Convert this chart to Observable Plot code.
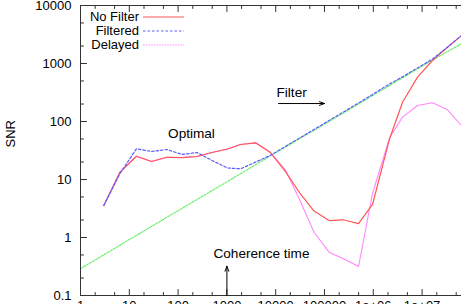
<!DOCTYPE html>
<html><head><meta charset="utf-8">
<script src="https://cdn.jsdelivr.net/npm/d3@7"></script>
<script src="https://cdn.jsdelivr.net/npm/@observablehq/plot@0.6"></script>
<style>
html,body{margin:0;padding:0;background:#fff;width:461px;height:304px;overflow:hidden;}
#wrap{position:relative;width:461px;height:304px;}
#legend{position:absolute;left:0;top:0;width:200px;height:60px;font:13px "Liberation Sans",Arial,sans-serif;color:#000;}
.lab{position:absolute;left:0;width:139px;text-align:right;line-height:14px;}
.smp{position:absolute;left:143px;width:42px;height:6px;}
</style></head>
<body><div id="wrap"><div id="chart"></div><div id="legend"></div></div>
<script>
// x positions (time) shared by the three measured series
const times = [3.0, 6.45, 14.0, 28.5, 59.2, 120, 244, 495, 1030, 1900, 3860, 7820, 15900, 31500, 61000, 124000, 245000, 498000, 964000, 2.15e6, 3.97e6, 8.05e6, 1.63e7, 3.31e7, 6.42e7];
const noFilter = [3.56, 13.4, 25.2, 20.4, 24.2, 23.9, 24.9, 29.2, 33.6, 40.1, 42.9, 29.2, 13.7, 5.74, 2.86, 1.96, 2.02, 1.74, 3.71, 50, 215, 581, 1127, 1910, 3040];
const filtered = [3.56, 12.7, 33.8, 30.4, 32.9, 27.0, 29.2, 21.3, 15.8, 15.3, 19.9, 26.1, 37.2, 52.4, 72.8, 104, 146, 208, 293, 443, 588, 837, 1190, 1910, 3040];
const delayed = [3.56, 13.4, 25.2, 20.4, 24.2, 23.9, 24.9, 29.2, 33.6, 40.1, 42.9, 29.2, 14.5, 4.34, 1.23, 0.558, 0.43, 0.316, 5.74, 52, 119, 189, 210, 159, 85];
// unlabelled reference line
const refTimes = [1, 10, 100, 1000, 1e4, 1e5, 1e6, 1e7, 6.42e7];
const refSNR = [0.29, 0.92, 2.9, 9.1, 29, 90, 285, 900, 2200];

const xTicks = [1, 10, 100, 1000, 1e4, 1e5, 1e6, 1e7];
const xTickLabels = ["1", "10", "100", "1000", "10000", "100000", "1e+06", "1e+07"];
const yTicks = [0.1, 1, 10, 100, 1000, 10000];
const yTickLabels = ["0.1", "1", "10", "100", "1000", "10000"];

const seriesNames = ["No Filter", "Filtered", "Delayed"];
const seriesColors = ["#ff5656", "#5c5cff", "#ff88ff"];
const seriesDash = [null, "2.5,2", "1.5,1.2"];
const refColor = "#6cf06c";

const FONT = "Liberation Sans, Arial, Helvetica, sans-serif";

const table = (ys) => times.map((t, i) => ({t, v: ys[i]}));
const refTable = refTimes.map((t, i) => ({t, v: refSNR[i]}));

const minorX = [];
for (let e = 0; e < 8; e++) for (const m of [2, 5]) minorX.push(m * 10 ** e);
const minorY = [];
for (let e = -1; e < 4; e++) for (const m of [2, 5]) minorY.push(+(m * 10 ** e).toPrecision(3));

const tickShape = {draw(ctx, l) { ctx.moveTo(0, 0); ctx.lineTo(0, -l); }};
const tickMarks = (vals, len, side) => side === "left"
  ? Plot.vector(vals, {y: d => d, frameAnchor: "left", length: len, rotate: 90, anchor: "start", shape: tickShape, stroke: "#333", strokeWidth: 1})
  : Plot.vector(vals, {x: d => d, frameAnchor: side, length: len, rotate: side === "bottom" ? 0 : 180, anchor: "start", shape: tickShape, stroke: "#333", strokeWidth: 1});

// annotations
const notesMiddle = [{text: "Optimal", t: 188, v: 62}];
const notesStart = [
  {text: "Filter", t: 10400, v: 320},
  {text: "Coherence time", t: 531, v: 0.53}
];
const arrows = [
  {t1: 11400, v1: 204, t2: 1.0e5, v2: 204},
  {t1: 1000, v1: 0.1, t2: 1000, v2: 0.32}
];

const chart = Plot.plot({
  width: 461, height: 304,
  marginLeft: 80, marginRight: 0, marginTop: 5, marginBottom: 9,
  style: {fontFamily: FONT, fontSize: "13px", background: "#fff", overflow: "visible"},
  x: {type: "log", domain: [1, 6.42e7]},
  y: {type: "log", domain: [0.1, 10000]},
  marks: [
    Plot.line(refTable, {x: "t", y: "v", stroke: refColor, strokeWidth: 1.2, strokeDasharray: "2,1.5", clip: true}),
    Plot.line(table(delayed), {x: "t", y: "v", stroke: seriesColors[2], strokeWidth: 1.1, clip: true}),
    Plot.line(table(noFilter), {x: "t", y: "v", stroke: seriesColors[0], strokeWidth: 1.2, clip: true}),
    Plot.line(table(filtered), {x: "t", y: "v", stroke: seriesColors[1], strokeWidth: 1.2, strokeDasharray: seriesDash[1], clip: true}),
    Plot.ruleY([0.1, 10000], {stroke: "#333", strokeWidth: 1}),
    Plot.ruleX([1], {stroke: "#333", strokeWidth: 1}),
    tickMarks(xTicks, 6, "bottom"),
    tickMarks(minorX, 3, "bottom"),
    tickMarks(xTicks, 6, "top"),
    tickMarks(minorX, 3, "top"),
    tickMarks(yTicks, 6, "left"),
    tickMarks(minorY, 3, "left"),
    Plot.axisX({ticks: xTicks, tickFormat: d => xTickLabels[xTicks.indexOf(d)], tickSize: 0, tickPadding: 5, fontSize: 13, fill: "#000", label: null}),
    Plot.axisY({ticks: yTicks, tickFormat: d => yTickLabels[yTicks.indexOf(d)], tickSize: 0, tickPadding: 9, fontSize: 13, fill: "#000", label: null}),
    Plot.text(["SNR"], {frameAnchor: "left", dx: -70, dy: -3, rotate: -90, fontSize: 13, fill: "#000"}),
    Plot.text(notesMiddle, {x: "t", y: "v", text: "text", textAnchor: "middle", fontSize: 13.6, fill: "#000"}),
    Plot.text(notesStart, {x: "t", y: "v", text: "text", textAnchor: "start", fontSize: 13.6, fill: "#000"}),
    Plot.arrow(arrows, {x1: "t1", y1: "v1", x2: "t2", y2: "v2", stroke: "#000", strokeWidth: 1, headLength: 8, headAngle: 40})
  ]
});
document.getElementById("chart").appendChild(chart);

// legend (top-left, inside plot)
const legend = document.getElementById("legend");
seriesNames.forEach((name, i) => {
  const top = 10 + i * 14;
  const lab = document.createElement("div");
  lab.className = "lab"; lab.style.top = top + "px"; lab.textContent = name;
  legend.appendChild(lab);
  const ns = "http://www.w3.org/2000/svg";
  const s = document.createElementNS(ns, "svg");
  s.setAttribute("class", "smp"); s.setAttribute("width", 42); s.setAttribute("height", 6);
  s.style.top = (top + 4) + "px";
  const ln = document.createElementNS(ns, "line");
  ln.setAttribute("x1", 0); ln.setAttribute("x2", 41); ln.setAttribute("y1", 3); ln.setAttribute("y2", 3);
  ln.setAttribute("stroke", seriesColors[i]); ln.setAttribute("stroke-width", 1.2);
  if (seriesDash[i]) ln.setAttribute("stroke-dasharray", seriesDash[i]);
  s.appendChild(ln); legend.appendChild(s);
});
</script>
</body></html>
